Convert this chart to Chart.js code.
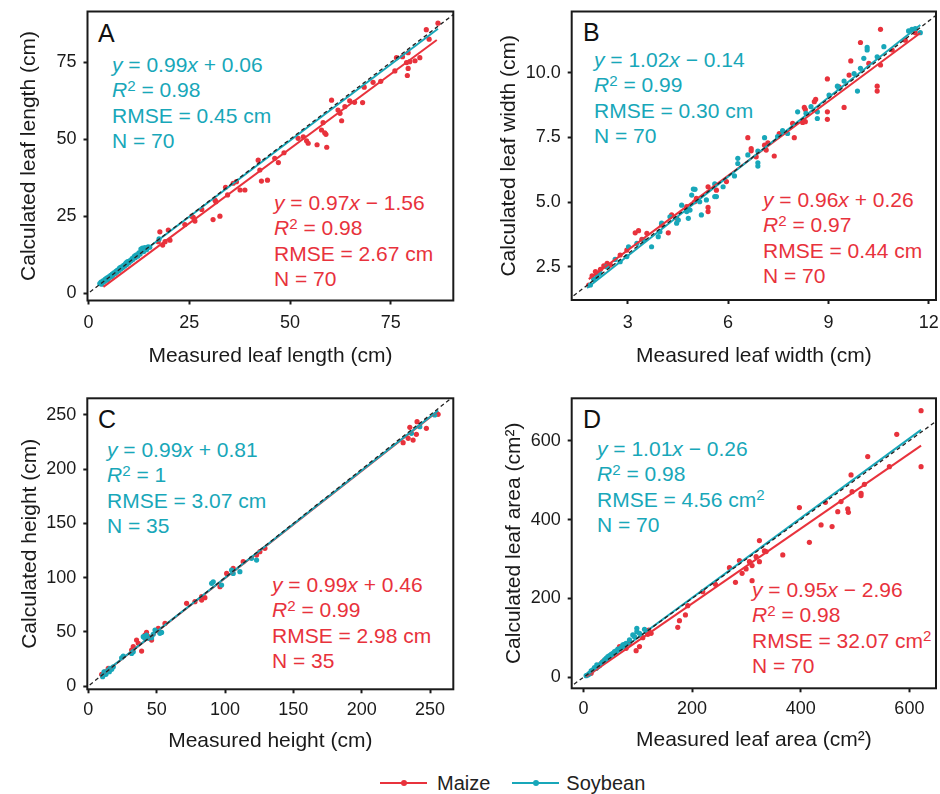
<!DOCTYPE html>
<html><head><meta charset="utf-8">
<script src="https://cdn.jsdelivr.net/npm/chart.js@4.4.1/dist/chart.umd.min.js"></script>
<style>
html,body{margin:0;padding:0;background:#fff;}
#wrap{position:relative;width:940px;height:794px;overflow:hidden;font-family:"Liberation Sans",Arial,Helvetica,sans-serif;}
#wrap canvas{position:absolute;}
.ann{position:absolute;font-size:21px;line-height:25.3px;white-space:nowrap;}
.ann sup{font-size:0.72em;vertical-align:baseline;position:relative;top:-0.42em;line-height:0;}
.teal{color:#18a7b9;}
.red{color:#e8323c;}
.letter{position:absolute;font-size:25px;line-height:25px;color:#111;}
#legend{position:absolute;left:380px;top:771px;height:24px;display:flex;align-items:center;font-size:20px;color:#222;}
.sw{position:relative;width:47px;height:2px;}
.sw::after{content:"";position:absolute;left:20.5px;top:-2px;width:6px;height:6px;border-radius:50%;background:inherit;}
</style>
</head>
<body>
<div id="wrap">
  <div class="letter" style="left:98px;top:21px;">A</div>
  <div class="letter" style="left:583px;top:20px;">B</div>
  <div class="letter" style="left:98px;top:407px;">C</div>
  <div class="letter" style="left:583px;top:407px;">D</div>

  <div class="ann teal" style="left:112px;top:52px;"><i>y</i> = 0.99<i>x</i> + 0.06<br><i>R</i><sup>2</sup> = 0.98<br>RMSE = 0.45 cm<br>N = 70</div>
  <div class="ann red" style="left:274px;top:190px;"><i>y</i> = 0.97<i>x</i> − 1.56<br><i>R</i><sup>2</sup> = 0.98<br>RMSE = 2.67 cm<br>N = 70</div>

  <div class="ann teal" style="left:594px;top:47px;"><i>y</i> = 1.02<i>x</i> − 0.14<br><i>R</i><sup>2</sup> = 0.99<br>RMSE = 0.30 cm<br>N = 70</div>
  <div class="ann red" style="left:763px;top:187px;"><i>y</i> = 0.96<i>x</i> + 0.26<br><i>R</i><sup>2</sup> = 0.97<br>RMSE = 0.44 cm<br>N = 70</div>

  <div class="ann teal" style="left:107px;top:437px;"><i>y</i> = 0.99<i>x</i> + 0.81<br><i>R</i><sup>2</sup> = 1<br>RMSE = 3.07 cm<br>N = 35</div>
  <div class="ann red" style="left:272px;top:572px;"><i>y</i> = 0.99<i>x</i> + 0.46<br><i>R</i><sup>2</sup> = 0.99<br>RMSE = 2.98 cm<br>N = 35</div>

  <div class="ann teal" style="left:597px;top:436px;"><i>y</i> = 1.01<i>x</i> − 0.26<br><i>R</i><sup>2</sup> = 0.98<br>RMSE = 4.56 cm<sup>2</sup><br>N = 70</div>
  <div class="ann red" style="left:752px;top:577px;"><i>y</i> = 0.95<i>x</i> − 2.96<br><i>R</i><sup>2</sup> = 0.98<br>RMSE = 32.07 cm<sup>2</sup><br>N = 70</div>

  <div id="legend">
    <span class="sw" style="background:#e8323c;"></span><span style="margin-left:10px;margin-right:22px;">Maize</span>
    <span class="sw" style="background:#18a7b9;"></span><span style="margin-left:7px;">Soybean</span>
  </div>
</div>
<script>
// ---------------- DATA ----------------
// Panel A: leaf length (cm)
const aMaize = [[86.7,87.7],[83.8,85.6],[84.5,82.5],[76.4,76.5],[77.9,76.8],[79.3,78.1],[76.0,72.2],[78.9,74.9],[79.7,75.2],[81.0,75.5],[82.2,76.5],[79.3,73.0],[79.1,70.7],[70.6,68.5],[68.4,66.9],[68.0,61.9],[60.3,62.7],[64.8,62.5],[63.6,60.6],[61.9,59.5],[62.4,58.4],[62.8,56.0],[58.2,55.4],[57.8,53.0],[58.6,52.1],[58.9,51.6],[56.7,48.2],[59.1,47.4],[52.0,50.3],[53.3,50.8],[54.1,49.5],[54.5,48.7],[42.1,43.2],[42.5,40.0],[46.2,43.8],[47.1,42.4],[42.9,36.4],[44.4,36.7],[34.0,34.4],[35.9,35.7],[36.7,36.2],[37.6,33.5],[38.8,33.5],[34.5,31.9],[31.4,30.2],[31.6,29.7],[30.9,23.9],[32.6,25.0],[26.0,24.6],[26.4,23.4],[25.6,25.0],[23.9,22.3],[28.1,27.2],[17.7,19.9],[18.4,15.6],[19.0,16.7],[19.8,20.5],[20.2,17.2],[17.3,16.7],[48.5,45.6],[66.0,62.0],[72.5,68.8]];
const aSoy = [[2.8,3.1],[3.1,3.6],[3.4,3.3],[3.6,4.0],[3.9,3.8],[4.1,4.5],[4.3,4.2],[4.5,4.9],[4.8,4.6],[5.0,5.3],[5.2,5.0],[5.5,5.8],[5.7,5.4],[5.9,6.2],[6.1,6.0],[6.3,6.6],[6.6,6.4],[6.8,7.1],[7.0,6.8],[7.2,7.5],[7.5,7.3],[7.7,8.1],[8.0,7.8],[8.2,8.5],[8.5,8.3],[8.7,9.0],[9.0,8.8],[9.2,9.6],[9.5,9.3],[9.7,10.2],[10.0,9.9],[10.3,10.6],[10.5,10.4],[10.8,11.2],[11.0,10.9],[11.3,11.8],[11.6,11.5],[11.9,12.4],[12.2,12.0],[12.5,13.1],[12.8,12.7],[13.1,13.6],[13.4,14.6],[13.7,13.5],[14.0,14.8],[14.4,14.1],[14.8,15.0],[15.2,14.9],[3.3,2.9],[4.6,4.3],[6.0,5.7],[7.9,8.3],[9.4,9.9],[11.5,12.1],[13.0,14.3],[17.5,17.6]];
const aMaizeFit = [0.97, -1.56];
const aSoyFit = [0.99, 0.06];
const aMaizeFitX = [3.7, 86.4];
const aSoyFitX = [2.5, 86.7];
const aTicks = [0, 25, 50, 75];
const aTickLabels = ['0', '25', '50', '75'];

// Panel B: leaf width (cm)
const bMaize = [[10.56,11.68],[9.96,11.17],[9.67,10.46],[8.97,9.76],[10.56,10.30],[10.46,9.48],[10.46,9.29],[9.47,8.66],[8.58,8.88],[8.28,8.66],[8.31,8.58],[8.97,8.49],[8.97,8.20],[8.31,8.11],[8.23,8.08],[7.98,7.49],[6.59,7.49],[6.69,7.07],[6.69,6.98],[7.38,6.78],[7.09,7.20],[7.19,7.29],[5.40,5.59],[5.40,4.79],[5.40,4.63],[5.05,5.14],[5.00,5.01],[4.31,4.50],[4.21,3.81],[4.01,4.11],[3.32,3.89],[3.22,3.81],[3.42,3.56],[2.77,2.95],[2.38,2.63],[2.48,2.56],[2.18,2.40],[2.03,2.31],[1.93,2.14],[2.08,2.24],[2.28,2.53],[1.83,1.79],[7.53,7.65],[7.93,8.04],[8.62,8.97],[9.32,9.46],[9.62,9.91],[10.21,10.36],[10.91,10.88],[11.30,11.26],[11.60,11.55],[5.95,5.79],[4.76,4.82],[3.57,3.79],[2.97,3.14],[7.14,7.01],[6.84,6.75],[5.65,5.46],[4.46,4.37]];
const bSoy = [[11.40,11.62],[11.50,11.68],[11.75,11.55],[11.60,11.71],[10.16,10.98],[10.16,10.88],[10.66,11.01],[10.06,10.56],[9.77,9.97],[9.87,9.29],[9.47,9.68],[9.27,9.48],[9.96,10.17],[10.46,10.62],[9.02,9.14],[8.67,8.49],[8.67,8.23],[8.48,8.69],[8.08,8.49],[7.78,7.65],[7.63,7.76],[7.09,7.49],[6.89,6.97],[6.89,6.52],[6.89,6.39],[6.29,6.69],[6.29,6.49],[6.19,6.01],[5.85,5.59],[5.60,5.70],[5.60,5.21],[5.65,5.21],[4.96,5.50],[5.01,5.49],[4.91,5.27],[5.15,5.01],[5.20,4.50],[4.86,4.69],[4.81,4.37],[4.61,4.88],[4.51,4.30],[4.26,4.43],[4.01,4.18],[3.91,3.66],[3.71,3.27],[3.02,3.27],[2.62,2.78],[2.37,2.50],[2.17,2.24],[1.98,2.01],[1.88,1.79],[6.59,6.82],[7.48,7.53],[8.33,8.43],[9.32,9.39],[3.47,3.53],[3.27,3.40],[4.46,4.18],[5.35,5.08],[4.76,4.63],[2.97,2.89],[2.77,2.69],[2.08,2.11],[3.96,3.85]];
const bMaizeFit = [0.96, 0.26];
const bSoyFit = [1.02, -0.14];
const bMaizeFitX = [1.83, 11.75];
const bSoyFitX = [1.78, 11.75];
const bXTicks = [3, 6, 9, 12];
const bXTickLabels = ['3', '6', '9', '12'];
const bYTicks = [2.5, 5, 7.5, 10];
const bYTickLabels = ['2.5', '5.0', '7.5', '10.0'];

// Panel C: height (cm)
const cMaize = [[255.9,250.6],[240.5,243.8],[235.2,238.6],[234.0,228.5],[240.0,232.2],[230.3,224.5],[129.2,127.0],[125.5,123.9],[113.3,114.7],[106.0,108.5],[101.2,103.9],[96.3,91.6],[85.3,81.5],[82.9,79.3],[78.0,77.8],[71.9,76.3],[56.1,57.8],[46.3,42.4],[43.9,45.5],[41.4,47.0],[36.6,39.4],[39.0,32.3],[32.9,36.3],[31.7,33.2],[35.3,42.4],[42.6,49.5],[14.6,16.3],[9.8,10.8],[12.2,13.2],[123.1,120.8],[51.2,53.2],[52.4,49.5],[247.3,237.7],[237.6,226.9],[82.9,82.4]];
const cSoy = [[253.4,250.0],[123.1,116.2],[110.9,105.5],[104.8,107.0],[91.4,96.2],[97.5,93.2],[90.2,94.7],[52.4,48.6],[53.6,49.5],[48.8,51.7],[47.5,47.7],[46.3,44.6],[40.2,45.5],[42.6,47.0],[41.4,44.0],[32.9,31.7],[31.7,30.1],[24.4,26.1],[25.6,27.7],[15.9,16.3],[14.6,14.8],[13.4,13.2],[12.2,11.7],[11.0,10.1],[12.9,10.8],[11.5,13.2],[15.4,13.2],[17.1,15.4],[10.5,8.6],[236.4,233.1],[242.5,239.2],[106.0,103.9],[119.4,117.8],[43.9,44.0],[18.3,17.8]];
const cMaizeFit = [0.99, 0.46];
const cSoyFit = [0.99, 0.81];
const cMaizeFitX = [8.6, 255.9];
const cSoyFitX = [8.6, 255.9];
const cTicks = [0, 50, 100, 150, 200, 250];
const cTickLabels = ['0', '50', '100', '150', '200', '250'];

// Panel D: leaf area (cm2)
const dMaize = [[621.5,676.2],[621.5,534.2],[576.7,616.2],[563.2,534.2],[523.3,559.6],[517.2,489.4],[511.0,466.6],[511.0,460.7],[492.6,513.1],[494.5,470.8],[486.5,426.9],[487.7,418.4],[468.1,420.1],[474.2,445.5],[445.4,443.8],[457.7,382.1],[437.4,386.3],[397.5,430.3],[415.9,342.3],[366.9,310.2],[323.9,346.6],[333.1,320.4],[323.9,293.3],[317.8,306.0],[310.4,283.2],[310.4,245.1],[305.5,293.3],[292.0,263.7],[287.1,295.9],[268.7,278.1],[279.8,240.9],[242.9,235.8],[219.6,217.2],[192.0,181.7],[187.7,158.1],[176.7,143.7],[173.6,126.8],[124.5,111.6],[116.6,114.1],[120.2,120.0],[109.2,100.6],[103.1,77.8],[96.9,67.6],[84.7,86.2],[66.3,77.8],[60.1,65.1],[47.9,52.4],[35.6,39.7],[23.3,22.8],[14.1,10.1],[29.4,31.3],[41.7,46.5],[78.5,73.5],[118.4,109.0],[299.4,274.7],[336.2,318.7]];
const dSoy = [[98.2,124.3],[98.2,115.8],[90.8,107.4],[78.5,86.2],[72.4,82.0],[63.2,71.8],[54.0,60.9],[47.9,54.9],[41.7,48.2],[32.5,35.5],[26.4,27.0],[17.2,18.6],[11.0,10.1],[8.0,5.9],[23.3,22.8],[29.4,29.6],[38.7,44.0],[50.9,58.3],[60.1,66.8],[69.3,75.2],[84.7,94.7],[112.3,121.7],[20.2,24.5],[14.1,16.1],[44.8,52.4],[75.5,83.7],[93.9,103.1],[103.1,111.6],[4.9,4.2],[9.8,7.6],[24.5,31.3],[34.4,38.0],[57.1,65.1]];
const dMaizeFit = [0.95, -2.96];
const dSoyFit = [1.01, -0.26];
const dMaizeFitX = [4.9, 621.5];
const dSoyFitX = [1.8, 621.5];
const dTicks = [0, 200, 400, 600];
const dTickLabels = ['0', '200', '400', '600'];

// ---------------- STYLE / LAYOUT ----------------
const TEAL = '#18a7b9', RED = '#e8323c', INK = '#1a1a1a';
const FONT = '"Liberation Sans", Arial, Helvetica, sans-serif';
const TICK_SIZE = 18, TITLE_SIZE = 21;

const panels = [
  {left:0, top:0, w:470, h:390, area:{l:87.5,t:11.5,r:453.3,b:300.5},
   xRange:[-0.25,90.5], yRange:[-2.4,91.5],
   xTicks:aTicks, xLabels:aTickLabels, yTicks:aTicks, yLabels:aTickLabels,
   xTitle:'Measured leaf length (cm)', yTitle:'Calculated leaf length (cm)', yTitleX:29, xTitleY:356, tickPadX:8,
   maize:aMaize, soy:aSoy, maizeFit:aMaizeFit, soyFit:aSoyFit, maizeFitX:aMaizeFitX, soyFitX:aSoyFitX},
  {left:470, top:0, w:470, h:390, area:{l:571.7,t:11.5,r:936,b:300},
   xRange:[1.32,12.22], yRange:[1.21,12.37],
   xTicks:bXTicks, xLabels:bXTickLabels, yTicks:bYTicks, yLabels:bYTickLabels,
   xTitle:'Measured leaf width (cm)', yTitle:'Calculated leaf width (cm)', yTitleX:509, xTitleY:356, tickPadX:8,
   maize:bMaize, soy:bSoy, maizeFit:bMaizeFit, soyFit:bSoyFit, maizeFitX:bMaizeFitX, soyFitX:bSoyFitX},
  {left:0, top:390, w:470, h:375, area:{l:87.3,t:398.3,r:453.3,b:689.3},
   xRange:[-0.73,267.0], yRange:[-3.0,265.4],
   xTicks:cTicks, xLabels:cTickLabels, yTicks:cTicks, yLabels:cTickLabels,
   xTitle:'Measured height (cm)', yTitle:'Calculated height (cm)', yTitleX:30, xTitleY:741, tickPadX:6,
   maize:cMaize, soy:cSoy, maizeFit:cMaizeFit, soyFit:cSoyFit, maizeFitX:cMaizeFitX, soyFitX:cSoyFitX},
  {left:470, top:390, w:470, h:375, area:{l:571.7,t:398.3,r:936,b:688.3},
   xRange:[-21.7,649], yRange:[-27.9,707.5],
   xTicks:dTicks, xLabels:dTickLabels, yTicks:dTicks, yLabels:dTickLabels,
   xTitle:'Measured leaf area (cm²)', yTitle:'Calculated leaf area (cm²)', yTitleX:514, xTitleY:740, tickPadX:6,
   maize:dMaize, soy:dSoy, maizeFit:dMaizeFit, soyFit:dSoyFit, maizeFitX:dMaizeFitX, soyFitX:dSoyFitX}
];

const boxPlugin = {
  id: 'box',
  afterDatasetsDraw(chart) {
    const {ctx, chartArea: a} = chart;
    ctx.save();
    ctx.strokeStyle = INK;
    ctx.lineWidth = 2;
    ctx.strokeRect(a.left, a.top, a.right - a.left, a.bottom - a.top);
    ctx.restore();
  }
};

const toPts = arr => arr.map(([x, y]) => ({x, y}));
const fitPts = (coef, xr) => xr.map(x => ({x, y: coef[0] * x + coef[1]}));
const noPad = s => { s.paddingTop = 0; s.paddingBottom = 0; s.paddingLeft = 0; s.paddingRight = 0; };

const wrap = document.getElementById('wrap');
panels.forEach(p => {
  const c = document.createElement('canvas');
  c.width = p.w; c.height = p.h;
  c.style.left = p.left + 'px'; c.style.top = p.top + 'px';
  c.style.width = p.w + 'px'; c.style.height = p.h + 'px';
  wrap.appendChild(c);
  const lh = TITLE_SIZE * 1.2;
  const yW = p.area.l - p.left;
  const xH = p.top + p.h - p.area.b;
  const lo = Math.min(p.xRange[0], p.yRange[0]);
  const hi = Math.max(p.xRange[1], p.yRange[1]);
  const gridOpts = {drawOnChartArea: false, drawTicks: true, tickLength: 4, tickWidth: 2, tickColor: INK};
  new Chart(c, {
    type: 'scatter',
    data: {datasets: [
      {data: [{x: lo, y: lo}, {x: hi, y: hi}], showLine: true, borderColor: '#222', borderWidth: 1.3, borderDash: [4, 3], pointRadius: 0, clip: 0},
      {data: fitPts(p.soyFit, p.soyFitX), showLine: true, borderColor: TEAL, borderWidth: 2, pointRadius: 0},
      {data: fitPts(p.maizeFit, p.maizeFitX), showLine: true, borderColor: RED, borderWidth: 2, pointRadius: 0},
      {data: toPts(p.soy), backgroundColor: TEAL, borderWidth: 0, pointRadius: 2.6},
      {data: toPts(p.maize), backgroundColor: RED, borderWidth: 0, pointRadius: 2.6}
    ]},
    options: {
      responsive: false, animation: false, devicePixelRatio: 1,
      events: [],
      layout: {autoPadding: false, padding: {left: 0, top: p.area.t - p.top, right: p.left + p.w - p.area.r, bottom: 0}},
      plugins: {legend: {display: false}, tooltip: {enabled: false}},
      scales: {
        x: {
          type: 'linear', position: 'bottom', min: p.xRange[0], max: p.xRange[1],
          afterFit: s => { s.height = xH; noPad(s); },
          afterBuildTicks: s => { s.ticks = p.xTicks.map(v => ({value: v})); },
          ticks: {callback: v => p.xLabels[p.xTicks.indexOf(v)], font: {family: FONT, size: TICK_SIZE}, color: INK, padding: p.tickPadX, maxRotation: 0, autoSkip: false, includeBounds: false},
          grid: gridOpts, border: {display: false},
          title: {display: true, text: p.xTitle, color: INK, font: {family: FONT, size: TITLE_SIZE},
                  padding: {top: 0, bottom: p.top + p.h - lh / 2 - p.xTitleY}}
        },
        y: {
          type: 'linear', position: 'left', min: p.yRange[0], max: p.yRange[1],
          afterFit: s => { s.width = yW; noPad(s); },
          afterBuildTicks: s => { s.ticks = p.yTicks.map(v => ({value: v})); },
          ticks: {callback: v => p.yLabels[p.yTicks.indexOf(v)], font: {family: FONT, size: TICK_SIZE}, color: INK, padding: 7, autoSkip: false, includeBounds: false},
          grid: gridOpts, border: {display: false},
          title: {display: true, text: p.yTitle, color: INK, font: {family: FONT, size: TITLE_SIZE},
                  padding: {top: p.yTitleX - p.left - lh / 2, bottom: 0}}
        }
      }
    },
    plugins: [boxPlugin]
  });
});
</script>
</body></html>
